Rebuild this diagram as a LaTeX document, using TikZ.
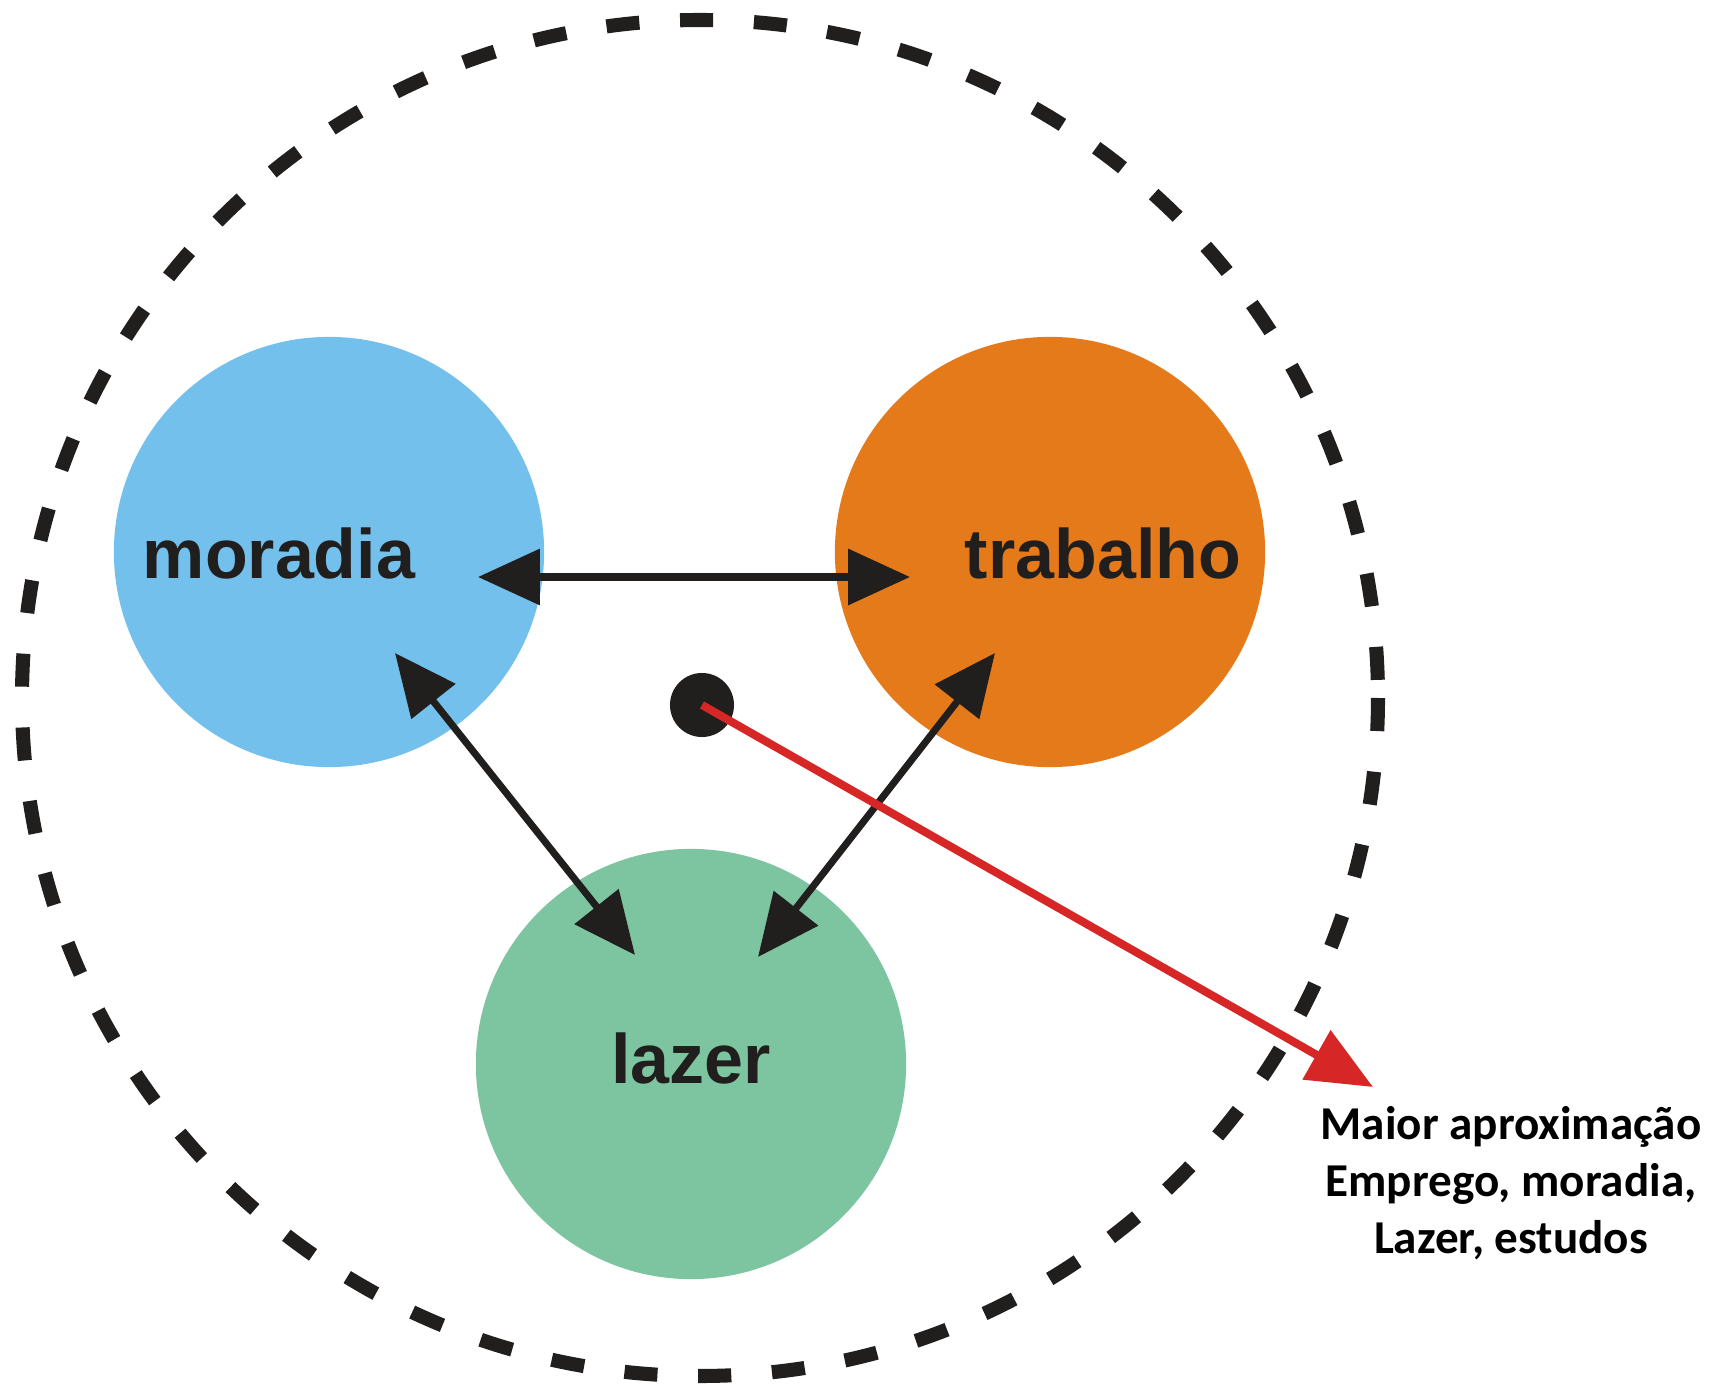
\documentclass[tikz,border=0pt]{standalone}
\usepackage{fontspec}
\setmainfont{Liberation Sans}
\newfontfamily\calibri{Carlito}
\usetikzlibrary{arrows.meta}
\definecolor{azul}{RGB}{115,192,237}
\definecolor{laranja}{RGB}{229,122,27}
\definecolor{verde}{RGB}{125,196,160}
\definecolor{preto}{RGB}{33,30,30}
\definecolor{vermelho}{RGB}{214,38,38}
\begin{document}
\begin{tikzpicture}[x=0.01cm,y=-0.01cm,
    lugar/.style={circle,minimum size=4.3cm,inner sep=0pt},
    rotulo/.style={anchor=base,text=preto,font=\bfseries\fontsize{19.9}{24}\selectfont},
    seta/.style={{Triangle[length=17.6pt,width=15.6pt]}-{Triangle[length=17.6pt,width=15.6pt]},line width=2pt,preto}]
    \useasboundingbox (0,0) rectangle (1714,1385);
    \draw[line width=4pt,dash pattern=on 9.4pt off 11.6pt,preto] (700,698) circle (678);
    \node[lugar,fill=azul] (moradia) at (329,552) {};
    \node[lugar,fill=laranja] (trabalho) at (1050,552) {};
    \node[lugar,fill=verde] (lazer) at (691,1064) {};
    \node[rotulo] (tmoradia) at (279,578) {moradia};
    \node[rotulo] (ttrabalho) at (1103,578) {trabalho};
    \node[rotulo] (tlazer) at (691,1083) {lazer};
    \node[circle,fill=preto,minimum size=0.64cm,inner sep=0pt] (centro) at (702,705) {};
    % pontas das setas
    \coordinate (m1) at (478,577);
    \coordinate (t1) at (910,577);
    \coordinate (m2) at (395,653);
    \coordinate (l1) at (635,955);
    \coordinate (t2) at (995,653);
    \coordinate (l2) at (758,957);
    \coordinate (ponta) at (1373,1087);
    \draw[seta] (m1)--(t1);
    \draw[seta] (m2)--(l1);
    \draw[seta] (t2)--(l2);
    \draw[vermelho,line width=2.3pt,-{Triangle[length=18.5pt,width=15.6pt]}] (centro.center)--(ponta);
    \node[anchor=base,align=center,font=\calibri\bfseries\fontsize{13.4}{16.1}\selectfont] (legenda) at (1511,1253) {Maior aproximação\\Emprego, moradia,\\Lazer, estudos};
\end{tikzpicture}
\end{document}
